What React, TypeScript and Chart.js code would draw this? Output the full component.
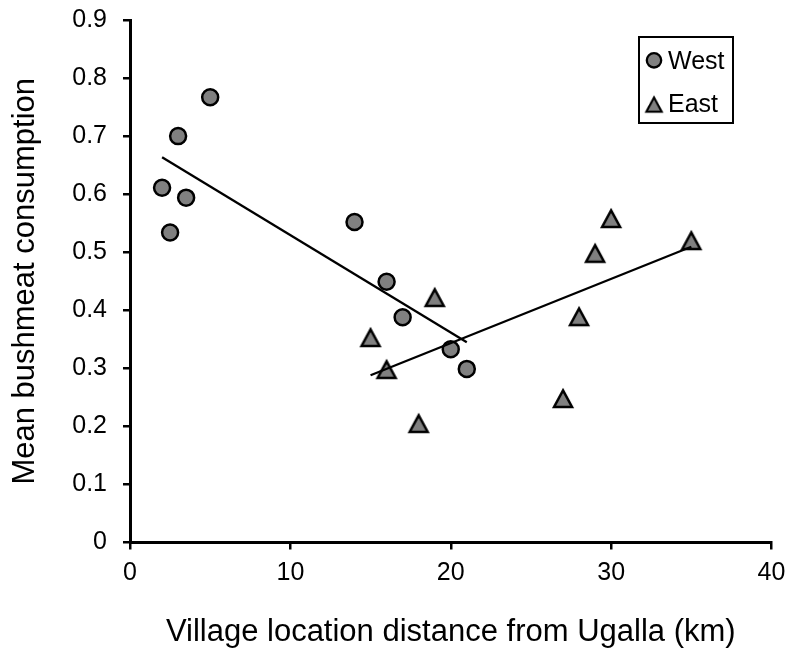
import React, { useEffect, useRef } from 'react';
import { Chart, registerables } from 'chart.js';

Chart.register(...registerables);

// ---- data ----
const seriesLabels = ['West', 'East'];
const westDistance = [2, 2.5, 3, 3.5, 5, 14, 16, 17, 20, 21];
const westConsumption = [0.611, 0.534, 0.7, 0.594, 0.767, 0.552, 0.449, 0.388, 0.333, 0.299];
const eastDistance = [15, 16, 18, 19, 27, 28, 29, 30, 35];
const eastConsumption = [0.354, 0.299, 0.206, 0.423, 0.249, 0.39, 0.499, 0.559, 0.521];
const xTicks = [0, 10, 20, 30, 40];
const yTicks = [0, 0.1, 0.2, 0.3, 0.4, 0.5, 0.6, 0.7, 0.8, 0.9];
const xTitle = 'Village location distance from Ugalla (km)';
const yTitle = 'Mean bushmeat consumption';

const FONT = "'Liberation Sans', Arial, Helvetica, sans-serif";
const GRAY = '#808080';

function toPoints(xs: number[], ys: number[]) {
  return xs.map((x, i) => ({ x, y: ys[i] }));
}

// least-squares linear trendline over the data range
function trendLine(xs: number[], ys: number[]) {
  const n = xs.length;
  const mx = xs.reduce((a, b) => a + b, 0) / n;
  const my = ys.reduce((a, b) => a + b, 0) / n;
  let sxy = 0;
  let sxx = 0;
  for (let i = 0; i < n; i++) {
    sxy += (xs[i] - mx) * (ys[i] - my);
    sxx += (xs[i] - mx) * (xs[i] - mx);
  }
  const slope = sxy / sxx;
  const b = my - slope * mx;
  const x0 = Math.min(...xs);
  const x1 = Math.max(...xs);
  return [
    { x: x0, y: b + slope * x0 },
    { x: x1, y: b + slope * x1 },
  ];
}

function makeTriangle(w: number, h: number, lw: number) {
  const size = 32;
  const c = document.createElement('canvas');
  c.width = size;
  c.height = size;
  const ctx = c.getContext('2d')!;
  const cx = size / 2;
  const cy = size / 2 + 0.7;
  ctx.beginPath();
  ctx.moveTo(cx, cy - h / 2);
  ctx.lineTo(cx + w / 2, cy + h / 2);
  ctx.lineTo(cx - w / 2, cy + h / 2);
  ctx.closePath();
  ctx.fillStyle = GRAY;
  ctx.fill();
  ctx.lineWidth = lw;
  ctx.lineJoin = 'miter';
  ctx.strokeStyle = '#000';
  ctx.stroke();
  return c;
}

const boxLegend = {
  id: 'boxLegend',
  afterDraw(chart: any) {
    const { ctx, chartArea } = chart;
    const left = chartArea.right - 132.5;
    const top = chartArea.top + 17;
    const w = 94;
    const h = 86;
    ctx.save();
    ctx.fillStyle = '#fff';
    ctx.fillRect(left, top, w, h);
    ctx.lineWidth = 2;
    ctx.strokeStyle = '#000';
    ctx.strokeRect(left, top, w, h);
    const items = [
      { ds: chart.data.datasets[0], cy: top + 23.3, base: top + 31.7 },
      { ds: chart.data.datasets[1], cy: top + 67, base: top + 74.5 },
    ];
    const mx = left + 15;
    items.forEach((it) => {
      const style = it.ds.pointStyle;
      if (style === 'circle') {
        ctx.beginPath();
        ctx.arc(mx, it.cy, 7.2, 0, Math.PI * 2);
        ctx.fillStyle = GRAY;
        ctx.fill();
        ctx.lineWidth = 2.3;
        ctx.strokeStyle = '#000';
        ctx.stroke();
      } else if (style && typeof style === 'object') {
        const s = 0.85;
        ctx.drawImage(style, mx - (style.width * s) / 2, it.cy - (style.height * s) / 2, style.width * s, style.height * s);
      }
      ctx.fillStyle = '#000';
      ctx.font = `25px ${FONT}`;
      ctx.textAlign = 'left';
      ctx.textBaseline = 'alphabetic';
      ctx.fillText(it.ds.label, left + 29, it.base);
    });
    ctx.restore();
  },
};

export default function App() {
  const ref = useRef<HTMLCanvasElement | null>(null);

  useEffect(() => {
    if (!ref.current) return;
    const tri = makeTriangle(18, 16.5, 2.5);
    const tickFont = { family: FONT, size: 25 };
    const titleFont = { family: FONT, size: 31 };
    const axisCommon = {
      grid: {
        drawOnChartArea: false,
        drawTicks: true,
        tickLength: 7,
        color: '#000',
        lineWidth: 2.5,
      },
      border: { display: true, color: '#000', width: 3 },
    };
    const chart = new Chart(ref.current, {
      type: 'scatter',
      data: {
        datasets: [
          {
            label: seriesLabels[0],
            data: toPoints(westDistance, westConsumption),
            pointStyle: 'circle',
            pointRadius: 8,
            pointHoverRadius: 8,
            backgroundColor: GRAY,
            borderColor: '#000',
            borderWidth: 2.5,
            order: 1,
          },
          {
            label: seriesLabels[1],
            data: toPoints(eastDistance, eastConsumption),
            pointStyle: tri as any,
            pointRadius: 10,
            backgroundColor: GRAY,
            borderColor: '#000',
            order: 1,
          },
          {
            label: 'West trend',
            data: trendLine(westDistance, westConsumption),
            showLine: true,
            pointRadius: 0,
            borderColor: '#000',
            borderWidth: 2.3,
            fill: false,
            order: 0,
          },
          {
            label: 'East trend',
            data: trendLine(eastDistance, eastConsumption),
            showLine: true,
            pointRadius: 0,
            borderColor: '#000',
            borderWidth: 2.3,
            fill: false,
            order: 0,
          },
        ],
      },
      options: {
        responsive: false,
        animation: false,
        events: [],
        layout: { padding: { top: 20, right: 16.5, bottom: 0, left: 0 } },
        plugins: {
          legend: { display: false },
          tooltip: { enabled: false },
        },
        scales: {
          x: {
            type: 'linear',
            min: 0,
            max: 40,
            afterBuildTicks: (s: any) => {
              s.ticks = xTicks.map((v) => ({ value: v }));
            },
            afterFit: (s: any) => {
              s.height = 110.5;
              s.paddingLeft = 0;
              s.paddingRight = 0;
            },
            ticks: {
              font: tickFont,
              color: '#000',
              padding: 9,
              maxRotation: 0,
              callback: (v: any) => String(v),
            },
            title: {
              display: true,
              text: xTitle,
              font: titleFont,
              color: '#000',
              padding: { top: 0, bottom: 2 },
            },
            ...axisCommon,
          },
          y: {
            type: 'linear',
            min: 0,
            max: 0.9,
            afterBuildTicks: (s: any) => {
              s.ticks = yTicks.map((v) => ({ value: v }));
            },
            afterFit: (s: any) => {
              s.width = 130;
              s.paddingTop = 0;
              s.paddingBottom = 0;
            },
            ticks: {
              font: tickFont,
              color: '#000',
              padding: 16,
              callback: (v: any) => (Number(v) === 0 ? '0' : Number(v).toFixed(1)),
            },
            title: {
              display: true,
              text: yTitle,
              font: titleFont,
              color: '#000',
              padding: { top: 6.5, bottom: 0 },
            },
            ...axisCommon,
          },
        },
      },
      plugins: [boxLegend],
    } as any);
    return () => chart.destroy();
  }, []);

  return (
    <div style={{ position: 'absolute', left: 0, top: 0, width: 788, height: 653, background: '#fff' }}>
      <canvas ref={ref} width={788} height={653} style={{ display: 'block' }} />
    </div>
  );
}
